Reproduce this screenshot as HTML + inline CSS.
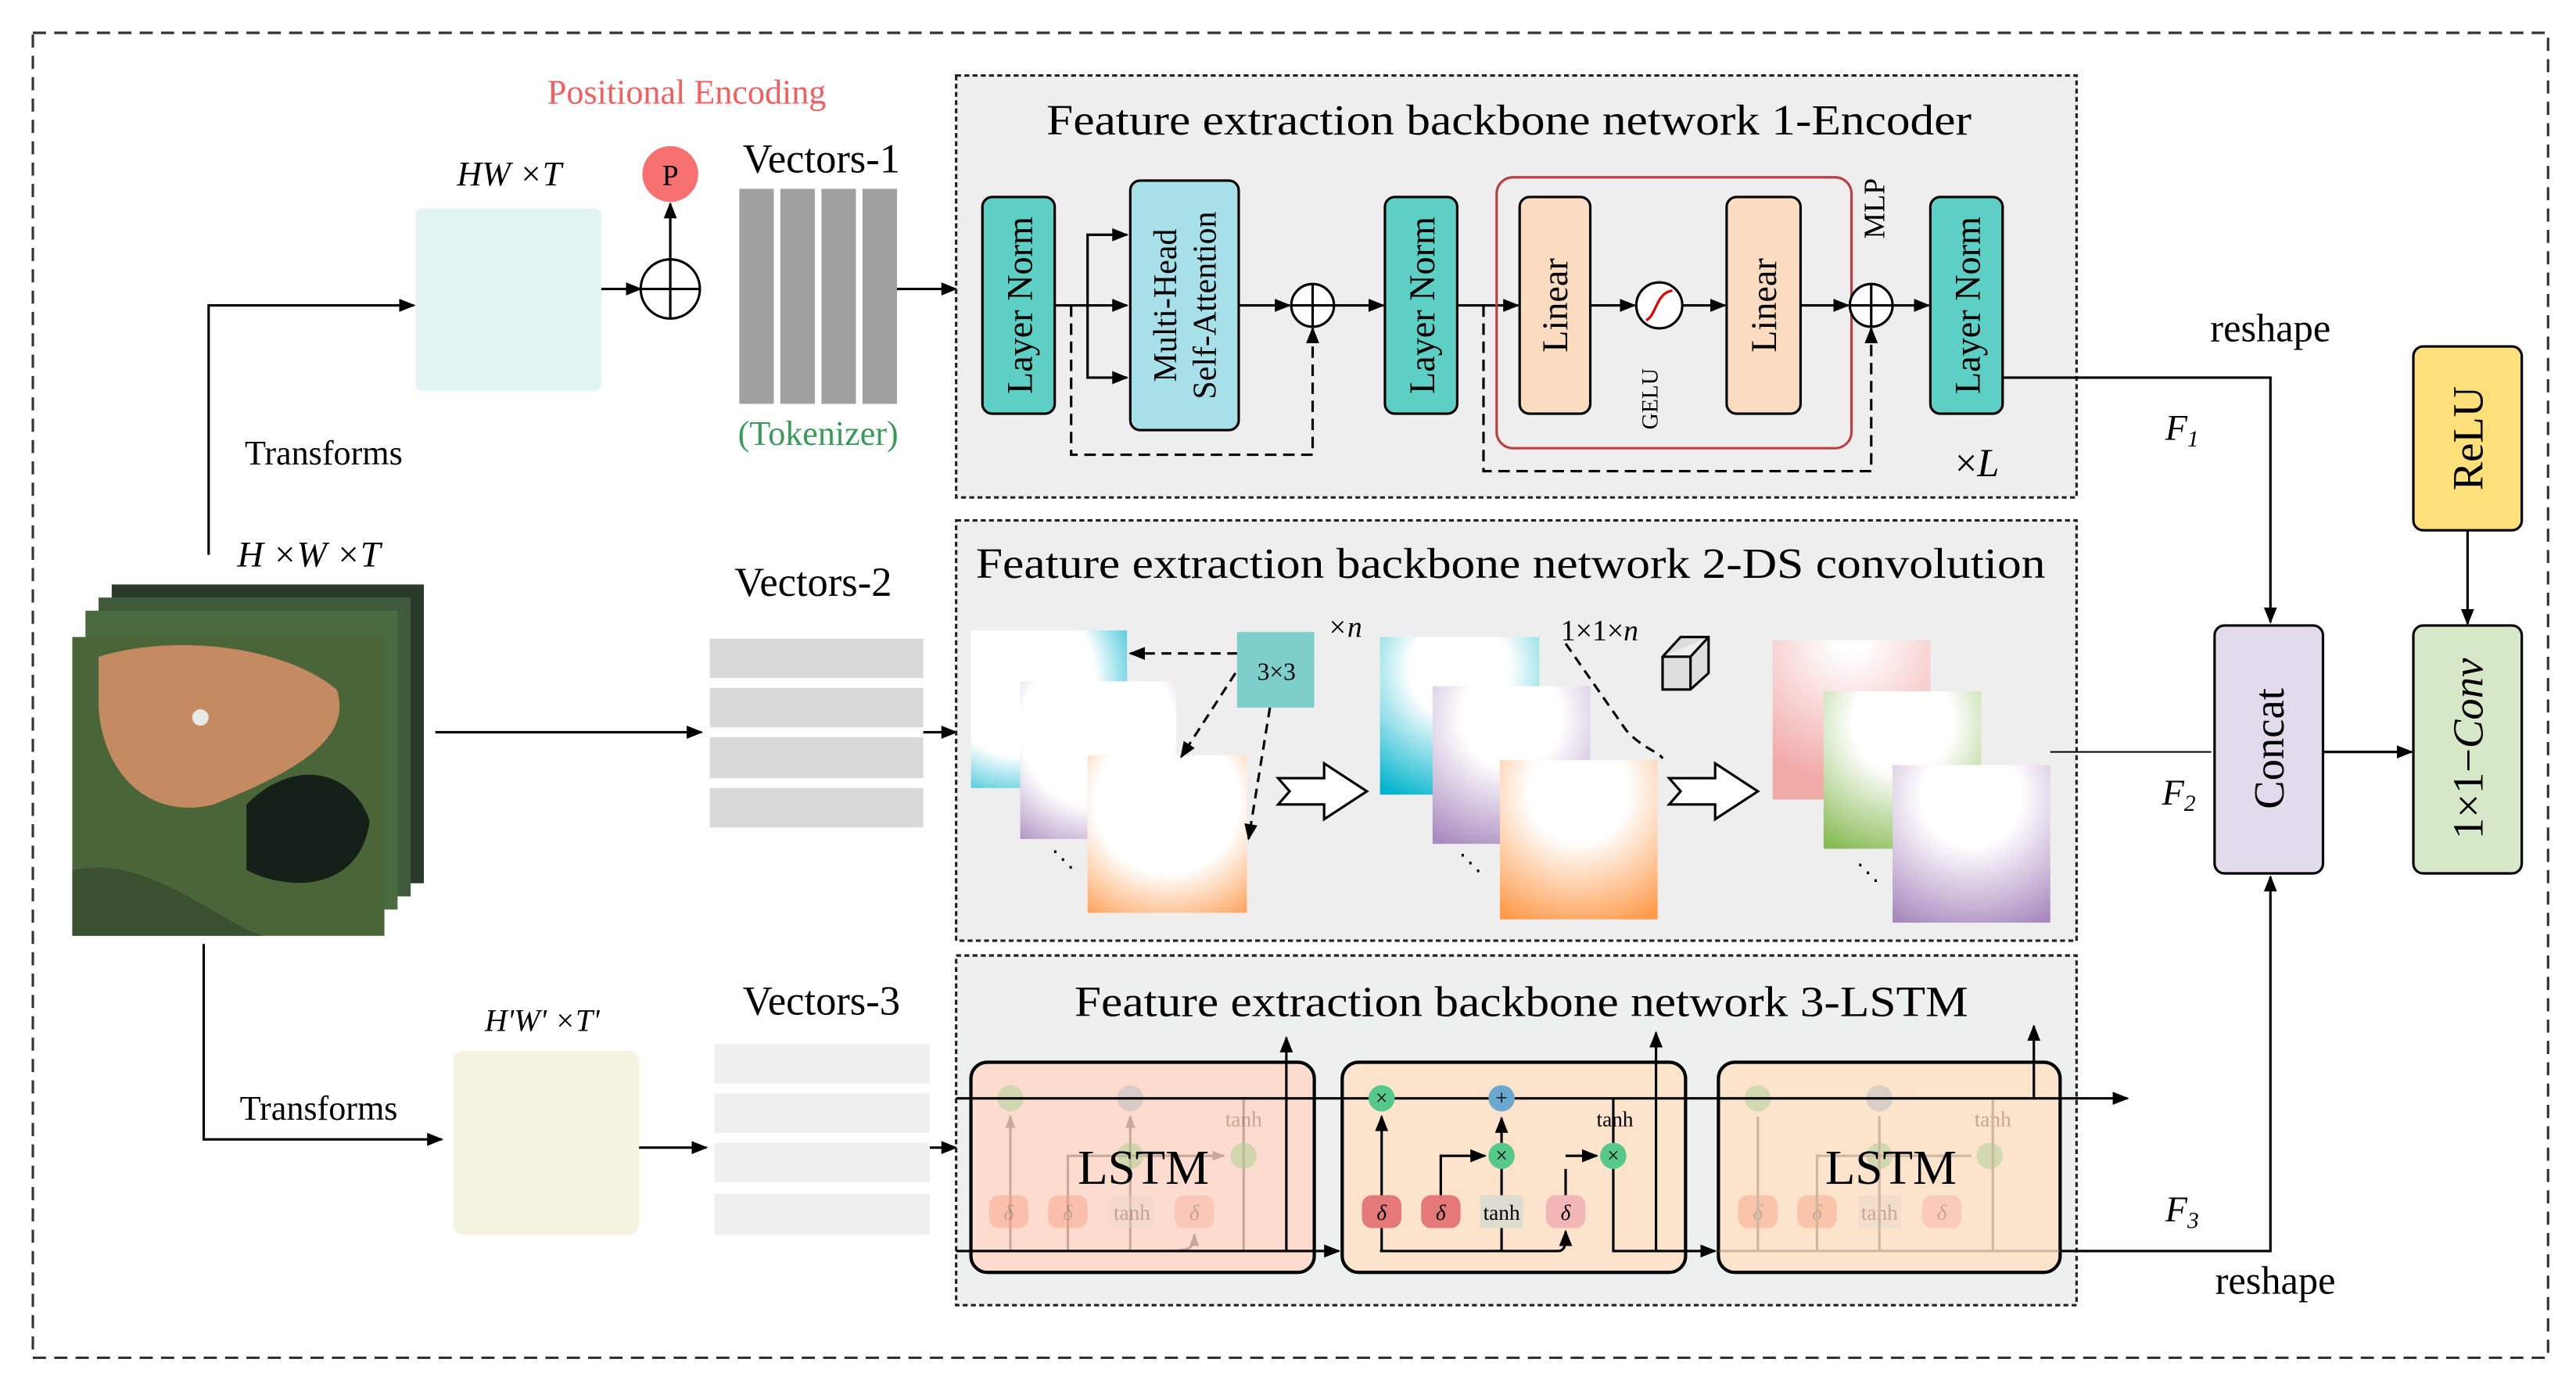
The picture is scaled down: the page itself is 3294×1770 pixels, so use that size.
<!DOCTYPE html>
<html><head><meta charset="utf-8"><style>html,body{margin:0;padding:0;background:#fff}svg{display:block}svg text{font-family:"Liberation Serif","DejaVu Serif",serif}</style></head><body>
<svg width="3294" height="1770" viewBox="0 0 1568 843" preserveAspectRatio="none" xmlns="http://www.w3.org/2000/svg" style="font-family:'Liberation Serif',serif">
<defs>
<marker id="a" markerUnits="userSpaceOnUse" markerWidth="10" markerHeight="10" refX="9" refY="5" orient="auto"><path d="M0,1 L10,5 L0,9 z" fill="#000"/></marker>
<marker id="b" markerUnits="userSpaceOnUse" markerWidth="8" markerHeight="8" refX="7" refY="4" orient="auto"><path d="M0,1 L8,4 L0,7 z" fill="#9a8070"/></marker>
<radialGradient id="gT" cx="50%" cy="20%" r="90%"><stop offset="0.35" stop-color="#fff"/><stop offset="1" stop-color="#00b4cc"/></radialGradient>
<radialGradient id="gP" cx="50%" cy="20%" r="90%"><stop offset="0.35" stop-color="#fff"/><stop offset="1" stop-color="#a98bbf"/></radialGradient>
<radialGradient id="gO" cx="50%" cy="20%" r="90%"><stop offset="0.35" stop-color="#fff"/><stop offset="1" stop-color="#ff9a4a"/></radialGradient>
<radialGradient id="gR" cx="50%" cy="0%" r="90%"><stop offset="0.1" stop-color="#fff"/><stop offset="1" stop-color="#f0aaa8"/></radialGradient>
<radialGradient id="gG" cx="50%" cy="20%" r="90%"><stop offset="0.35" stop-color="#fff"/><stop offset="1" stop-color="#88bb55"/></radialGradient>
<radialGradient id="w1" cx="30%" cy="30%" r="90%"><stop offset="0.55" stop-color="#fff"/><stop offset="1" stop-color="#00b4cc"/></radialGradient>
<radialGradient id="w2" cx="50%" cy="30%" r="90%"><stop offset="0.55" stop-color="#fff"/><stop offset="1" stop-color="#a98bbf"/></radialGradient>
<radialGradient id="w3" cx="50%" cy="30%" r="90%"><stop offset="0.5" stop-color="#fff"/><stop offset="1" stop-color="#ff9a4a"/></radialGradient>
</defs>
<rect x="20" y="20" width="1531" height="807" fill="none" stroke="#333" stroke-width="1.5" stroke-dasharray="8,5"/>

<text x="418" y="63" font-size="21" fill="#f06060" text-anchor="middle">Positional Encoding</text>
<text x="310" y="113" font-size="21" font-style="italic" text-anchor="middle">HW ×T</text>
<rect x="253" y="127" width="113" height="111" fill="#e2f3f3" rx="4"/>
<circle cx="408" cy="106" r="17" fill="#f87171"/>
<text x="408" y="113" font-size="18" text-anchor="middle">P</text>
<circle cx="408" cy="176" r="18" fill="#fff" stroke="#000" stroke-width="1.5"/>
<path d="M390,176 H426 M408,158 V194" stroke="#000" stroke-width="1.5"/>
<line x1="408" y1="158" x2="408" y2="124" stroke="#000" stroke-width="1.5" marker-end="url(#a)"/>
<line x1="366" y1="176" x2="390" y2="176" stroke="#000" stroke-width="1.5" marker-end="url(#a)"/>
<text x="500" y="105" font-size="25" text-anchor="middle">Vectors-1</text>
<rect x="450" y="115" width="21" height="131" fill="#a0a0a0"/>
<rect x="475" y="115" width="21" height="131" fill="#a0a0a0"/>
<rect x="500" y="115" width="21" height="131" fill="#a0a0a0"/>
<rect x="525" y="115" width="21" height="131" fill="#a0a0a0"/>
<text x="498" y="271" font-size="21" fill="#3a9a5a" text-anchor="middle">(Tokenizer)</text>
<line x1="546" y1="176" x2="582" y2="176" stroke="#000" stroke-width="1.5" marker-end="url(#a)"/>
<path d="M127,338 V186 H252" fill="none" stroke="#000" stroke-width="1.5" marker-end="url(#a)"/>
<text x="197" y="283" font-size="21" text-anchor="middle">Transforms</text>

<rect x="582" y="46" width="682" height="257" fill="#eeeeee" stroke="#222" stroke-width="1.5" stroke-dasharray="3,2"/>
<text x="637" y="82" font-size="26" textLength="563" lengthAdjust="spacingAndGlyphs">Feature extraction backbone network 1-Encoder</text>
<g stroke="#000" stroke-width="1.5" fill="none">
<path d="M642,186 H686" marker-end="url(#a)"/>
<path d="M662,186 V143 H686" marker-end="url(#a)"/>
<path d="M662,186 V230 H686" marker-end="url(#a)"/>
<path d="M754,186 H785" marker-end="url(#a)"/>
<path d="M812,186 H842" marker-end="url(#a)"/>
<path d="M887,186 H924" marker-end="url(#a)"/>
<path d="M968,186 H995" marker-end="url(#a)"/>
<path d="M1024,186 H1050" marker-end="url(#a)"/>
<path d="M1096,186 H1125" marker-end="url(#a)"/>
<path d="M1152,186 H1174" marker-end="url(#a)"/>
<path d="M652,186 V277 H799 V200" stroke-dasharray="7,4" marker-end="url(#a)"/>
<path d="M903,186 V287 H1139 V200" stroke-dasharray="7,4" marker-end="url(#a)"/>
</g>
<rect x="911" y="108" width="216" height="165" rx="10" fill="none" stroke="#b84040" stroke-width="1.5"/>
<g stroke="#000" stroke-width="1.5">
<rect x="598" y="120" width="44" height="132" rx="6" fill="#5ecfc5"/>
<rect x="688" y="110" width="66" height="152" rx="6" fill="#a8e0ea"/>
<rect x="843" y="120" width="44" height="132" rx="6" fill="#5ecfc5"/>
<rect x="925" y="120" width="43" height="132" rx="6" fill="#fcdcc0"/>
<rect x="1051" y="120" width="45" height="132" rx="6" fill="#fcdcc0"/>
<rect x="1175" y="120" width="44" height="132" rx="6" fill="#5ecfc5"/>
<circle cx="799" cy="186" r="13" fill="#fff"/><path d="M786,186 H812 M799,173 V199"/>
<circle cx="1139" cy="186" r="13" fill="#fff"/><path d="M1126,186 H1152 M1139,173 V199"/>
<circle cx="1010" cy="186" r="14" fill="#fff"/>
</g>
<path d="M1002,195 C1008,193 1008,178 1018,177" stroke="#d00" stroke-width="1.5" fill="none"/>
<g font-size="22" text-anchor="middle">
<text transform="translate(628,186) rotate(-90)">Layer Norm</text>
<text transform="translate(873,186) rotate(-90)">Layer Norm</text>
<text transform="translate(1205,186) rotate(-90)">Layer Norm</text>
<text transform="translate(716,186) rotate(-90)" font-size="20">Multi-Head</text>
<text transform="translate(740,186) rotate(-90)" font-size="20">Self-Attention</text>
<text transform="translate(954,186) rotate(-90)">Linear</text>
<text transform="translate(1081,186) rotate(-90)">Linear</text>
<text transform="translate(1147,127) rotate(-90)" font-size="18">MLP</text>
<text transform="translate(1009,243) rotate(-90)" font-size="14">GELU</text>
</g>
<text x="1190" y="290" font-size="24">×<tspan font-style="italic">L</tspan></text>
<path d="M1219,230 H1382 V379" fill="none" stroke="#000" stroke-width="1.5" marker-end="url(#a)"/>
<text x="1382" y="208" font-size="24" text-anchor="middle">reshape</text>
<text x="1318" y="268" font-size="22" font-style="italic">F<tspan font-size="14" dy="4">1</tspan></text>

<rect x="1348" y="381" width="66" height="151" rx="6" fill="#e1dbeb" stroke="#000" stroke-width="1.5"/>
<text transform="translate(1390,456) rotate(-90)" font-size="26" text-anchor="middle">Concat</text>
<rect x="1469" y="211" width="66" height="112" rx="6" fill="#fde07a" stroke="#000" stroke-width="1.5"/>
<text transform="translate(1511,267) rotate(-90)" font-size="26" text-anchor="middle">ReLU</text>
<rect x="1469" y="381" width="66" height="151" rx="6" fill="#d6e8c8" stroke="#000" stroke-width="1.5"/>
<text transform="translate(1511,456) rotate(-90)" font-size="26" text-anchor="middle">1×1−<tspan font-style="italic">Conv</tspan></text>
<line x1="1502" y1="323" x2="1502" y2="380" stroke="#000" stroke-width="1.5" marker-end="url(#a)"/>
<line x1="1414" y1="458" x2="1468" y2="458" stroke="#000" stroke-width="1.5" marker-end="url(#a)"/>

<rect x="68" y="356" width="190" height="182" fill="#2a3a2a"/>
<rect x="60" y="364" width="190" height="182" fill="#3f5a3a"/>
<rect x="52" y="372" width="190" height="182" fill="#4a6a40"/>
<rect x="44" y="388" width="190" height="182" fill="#4a6538"/>
<path d="M60,400 C110,385 175,395 205,420 C215,450 180,470 130,490 C90,500 62,470 60,430 z" fill="#c48a62"/>
<path d="M150,490 C180,460 215,470 225,500 C220,540 180,545 150,530 z" fill="#152018"/>
<path d="M44,530 C90,520 130,560 160,570 H44 z" fill="#3a5030"/>
<circle cx="122" cy="437" r="5" fill="#e8e8e8"/>
<line x1="265" y1="446" x2="427" y2="446" stroke="#000" stroke-width="1.5" marker-end="url(#a)"/>
<text x="188" y="345" font-size="22" font-style="italic" text-anchor="middle">H ×W ×T</text>

<text x="495" y="363" font-size="25" text-anchor="middle">Vectors-2</text>
<rect x="432" y="389" width="130" height="24" fill="#d9d9d9"/>
<rect x="432" y="419" width="130" height="24" fill="#d9d9d9"/>
<rect x="432" y="449" width="130" height="25" fill="#d9d9d9"/>
<rect x="432" y="480" width="130" height="24" fill="#d9d9d9"/>
<line x1="562" y1="446" x2="582" y2="446" stroke="#000" stroke-width="1.5" marker-end="url(#a)"/>
<rect x="582" y="317" width="682" height="256" fill="#eeeeee" stroke="#222" stroke-width="1.5" stroke-dasharray="3,2"/>
<text x="594" y="352" font-size="26" textLength="651" lengthAdjust="spacingAndGlyphs">Feature extraction backbone network 2-DS convolution</text>
<rect x="591" y="384" width="95" height="96" fill="url(#w1)"/>
<rect x="621" y="415" width="95" height="96" fill="url(#w2)"/>
<rect x="662" y="460" width="97" height="96" fill="url(#w3)"/>
<rect x="753" y="385" width="47" height="46" fill="#7ecfcc"/>
<text x="777" y="414" font-size="15" text-anchor="middle">3×3</text>
<g stroke="#000" stroke-width="1.5" fill="none" stroke-dasharray="6,4">
<path d="M753,398 H688" marker-end="url(#a)"/>
<path d="M752,410 L719,461" marker-end="url(#a)"/>
<path d="M773,431 L760,511" marker-end="url(#a)"/>
<path d="M953,392 L990,445 C1000,456 1010,458 1012,462"/>
</g>
<text x="808" y="388" font-size="18" font-style="italic">×n</text>
<text x="950" y="390" font-size="18">1×1×<tspan font-style="italic">n</tspan></text>
<path d="M1012,400 L1023,388 H1040 V410 L1029,420 H1012 z M1012,400 H1029 L1040,388 M1029,400 V420" fill="#ddd" stroke="#000" stroke-width="1.5"/>
<text x="640" y="528" font-size="14">⋱</text><text x="888" y="530" font-size="14">⋱</text><text x="1130" y="536" font-size="14">⋱</text>
<path d="M778,474 H806 V465 L832,482 L806,499 V490 H778 L785,482 z" fill="#fff" stroke="#000" stroke-width="1.5"/>
<path d="M1016,474 H1044 V465 L1070,482 L1044,499 V490 H1016 L1023,482 z" fill="#fff" stroke="#000" stroke-width="1.5"/>
<rect x="840" y="388" width="97" height="96" fill="url(#gT)"/>
<rect x="872" y="418" width="96" height="96" fill="url(#gP)"/>
<rect x="913" y="463" width="96" height="97" fill="url(#gO)"/>
<rect x="1079" y="390" width="96" height="97" fill="url(#gR)"/>
<rect x="1110" y="421" width="96" height="96" fill="url(#gG)"/>
<rect x="1152" y="466" width="96" height="96" fill="url(#gP)"/>
<line x1="1248" y1="458" x2="1346" y2="458" stroke="#000" stroke-width="1"/>
<text x="1316" y="490" font-size="22" font-style="italic">F<tspan font-size="14" dy="4">2</tspan></text>

<path d="M124,575 V694 H269" fill="none" stroke="#000" stroke-width="1.5" marker-end="url(#a)"/>
<text x="194" y="682" font-size="21" text-anchor="middle">Transforms</text>
<rect x="276" y="640" width="113" height="112" rx="6" fill="#f3f3df"/>
<text x="330" y="628" font-size="19" font-style="italic" text-anchor="middle">H'W' ×T'</text>
<line x1="389" y1="699" x2="430" y2="699" stroke="#000" stroke-width="1.5" marker-end="url(#a)"/>
<text x="500" y="618" font-size="25" text-anchor="middle">Vectors-3</text>
<rect x="435" y="636" width="131" height="24" fill="#efefef"/>
<rect x="435" y="666" width="131" height="24" fill="#efefef"/>
<rect x="435" y="696" width="131" height="24" fill="#efefef"/>
<rect x="435" y="727" width="131" height="25" fill="#efefef"/>
<line x1="566" y1="699" x2="582" y2="699" stroke="#000" stroke-width="1.5" marker-end="url(#a)"/>

<rect x="582" y="582" width="682" height="213" fill="#ecf0ee" stroke="#222" stroke-width="1.5" stroke-dasharray="3,2"/>
<text x="654" y="619" font-size="26" textLength="544" lengthAdjust="spacingAndGlyphs">Feature extraction backbone network 3-LSTM</text>
<rect x="591" y="647" width="209" height="128" rx="10" fill="#fddccf" stroke="#000" stroke-width="2"/>
<rect x="817" y="647" width="209" height="128" rx="10" fill="#fbe3cc" stroke="#000" stroke-width="2"/>
<rect x="1046" y="647" width="208" height="128" rx="10" fill="#fbe3cc" stroke="#000" stroke-width="2"/>
<g opacity="0.55">
<g stroke="#9a8070" stroke-width="1.5" fill="none">
<path d="M591,669 H800"/><path d="M591,762 H800"/>
<path d="M615,762 V680" marker-end="url(#b)"/><path d="M688,762 V680" marker-end="url(#b)"/>
<path d="M650,762 V704 H745" marker-end="url(#b)"/>
<path d="M757,669 V762 H800"/>
<path d="M710,762 C725,762 727,760 727,752" marker-end="url(#b)"/>
</g>
</g>
<g opacity="0.45" font-size="13" text-anchor="middle" fill="#8a6050">
<circle cx="615" cy="669" r="8" fill="#9fd08a"/><circle cx="688" cy="669" r="8" fill="#b0b8c0"/>
<circle cx="688" cy="704" r="8" fill="#9fd08a"/><circle cx="757" cy="704" r="8" fill="#9fd08a"/>
<rect x="602" y="728" width="24" height="20" rx="6" fill="#f7a080"/><rect x="638" y="728" width="24" height="20" rx="6" fill="#f7a080"/>
<rect x="676" y="728" width="26" height="20" fill="#e8d8c8"/><rect x="715" y="728" width="24" height="20" rx="6" fill="#f7b0a0"/>
<text x="614" y="743" font-style="italic">δ</text><text x="650" y="743" font-style="italic">δ</text><text x="689" y="743">tanh</text><text x="727" y="743" font-style="italic">δ</text>
<text x="757" y="686">tanh</text>
<circle cx="1070" cy="669" r="8" fill="#9fd08a"/><circle cx="1144" cy="669" r="8" fill="#b0b8c0"/>
<circle cx="1144" cy="704" r="8" fill="#9fd08a"/><circle cx="1211" cy="704" r="8" fill="#9fd08a"/>
<rect x="1058" y="728" width="24" height="20" rx="6" fill="#f7a080"/><rect x="1094" y="728" width="24" height="20" rx="6" fill="#f7a080"/>
<rect x="1131" y="728" width="26" height="20" fill="#e8d8c8"/><rect x="1170" y="728" width="24" height="20" rx="6" fill="#f7b0a0"/>
<text x="1070" y="743" font-style="italic">δ</text><text x="1106" y="743" font-style="italic">δ</text><text x="1144" y="743">tanh</text><text x="1182" y="743" font-style="italic">δ</text>
<text x="1213" y="686">tanh</text>
<g stroke="#9a8070" stroke-width="1.5" fill="none">
<path d="M1046,669 H1254"/><path d="M1046,762 H1254"/>
<path d="M1070,762 V680"/><path d="M1144,762 V680"/><path d="M1106,762 V704 H1200"/><path d="M1213,669 V762"/>
</g>
</g>
<text x="696" y="721" font-size="30" text-anchor="middle">LSTM</text>
<text x="1151" y="721" font-size="30" text-anchor="middle">LSTM</text>
<g stroke="#000" stroke-width="1.5" fill="none">
<path d="M582,669 H1295" marker-end="url(#a)"/>
<path d="M582,762 H815" marker-end="url(#a)"/>
<path d="M841,762 V680" marker-end="url(#a)"/>
<path d="M914,762 V681" marker-end="url(#a)"/>
<path d="M877,728 V704 H904" marker-end="url(#a)"/>
<path d="M953,704 H972" marker-end="url(#a)"/>
<path d="M953,728 V712"/>
<path d="M840,762 H948 C953,762 953,758 953,750" marker-end="url(#a)"/>
<path d="M982,669 V762 H1044" marker-end="url(#a)"/>
<path d="M1254,762 H1382 V534" marker-end="url(#a)"/>
<path d="M783,762 V632" marker-end="url(#a)"/>
<path d="M1008,762 V629" marker-end="url(#a)"/>
<path d="M1238,669 V625" marker-end="url(#a)"/>
</g>
<g font-size="13" text-anchor="middle">
<circle cx="841" cy="669" r="8" fill="#55c88a"/><circle cx="914" cy="669" r="8" fill="#6aa8d0"/>
<circle cx="914" cy="704" r="8" fill="#55c88a"/><circle cx="982" cy="704" r="8" fill="#55c88a"/>
<text x="841" y="673">×</text><text x="914" y="673">+</text><text x="914" y="708">×</text><text x="982" y="708">×</text>
<rect x="829" y="728" width="24" height="20" rx="6" fill="#e57878"/><rect x="865" y="728" width="24" height="20" rx="6" fill="#e57878"/>
<rect x="901" y="728" width="26" height="20" fill="#dcdcd0"/><rect x="941" y="728" width="24" height="20" rx="6" fill="#f2b6b6"/>
<text x="841" y="743" font-style="italic">δ</text><text x="877" y="743" font-style="italic">δ</text><text x="914" y="743">tanh</text><text x="953" y="743" font-style="italic">δ</text>
<text x="983" y="686">tanh</text>
</g>
<text x="1318" y="744" font-size="22" font-style="italic">F<tspan font-size="14" dy="4">3</tspan></text>
<text x="1385" y="788" font-size="24" text-anchor="middle">reshape</text>
</svg>
</body></html>
